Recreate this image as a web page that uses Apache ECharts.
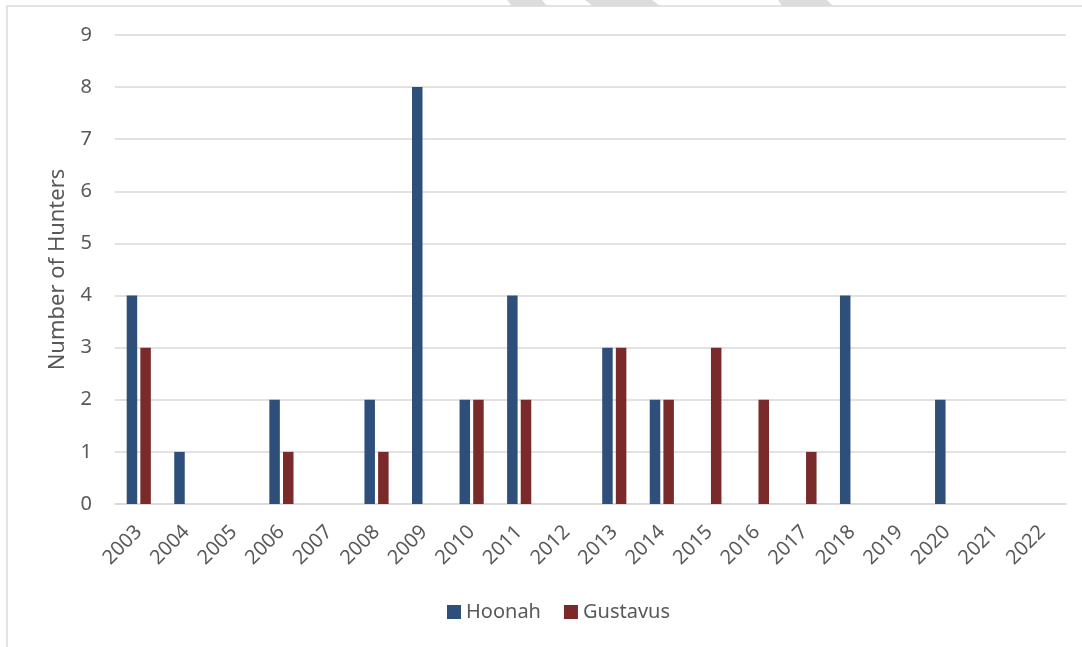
<!DOCTYPE html>
<html>
<head>
<meta charset="utf-8">
<script src="https://cdn.jsdelivr.net/npm/echarts@6/dist/echarts.min.js"></script>
<style>
  html, body { margin: 0; padding: 0; background: #fff; }
  #chart { width: 1082px; height: 647px; }
</style>
</head>
<body>
<div id="chart"></div>
<script>
// hunters per year
var years = ['2003', '2004', '2005', '2006', '2007', '2008', '2009', '2010', '2011', '2012',
             '2013', '2014', '2015', '2016', '2017', '2018', '2019', '2020', '2021', '2022'];
var hoonah   = [4, 1, 0, 2, 0, 2, 8, 2, 4, 0, 3, 2, 0, 0, 0, 4, 0, 2, 0, 0];
var gustavus = [3, 0, 0, 1, 0, 1, 0, 2, 2, 0, 3, 2, 3, 2, 1, 0, 0, 0, 0, 0];

var font = '"Noto Sans", "Open Sans", sans-serif';
var textCol = '#595959';

var chart = echarts.init(document.getElementById('chart'));

var option = {
    backgroundColor: '#fff',
    animation: false,
    textStyle: { fontFamily: font },
    graphic: [
        // frame round the chart
        { type: 'rect', shape: { x: 7, y: 6, width: 1200, height: 800 },
          style: { fill: 'none', stroke: '#d9d9d9', lineWidth: 1.5 }, z: -1 },
        // grey stripes of the watermark at the top
        { type: 'polygon', shape: { points: [[507, 0], [542, 0], [547, 6], [512, 6]] },
          style: { fill: '#dcdcdc' } },
        { type: 'polygon', shape: { points: [[585, 0], [652, 0], [660, 6], [593, 6]] },
          style: { fill: '#dcdcdc' } },
        { type: 'polygon', shape: { points: [[778, 0], [827, 0], [833, 6], [782, 6]] },
          style: { fill: '#dcdcdc' } }
    ],
    grid: { left: 115, right: 16, top: 35, bottom: 143, containLabel: false },
    legend: {
        bottom: 20,
        left: 442,
        itemWidth: 14,
        itemHeight: 14,
        itemGap: 23,
        icon: 'rect',
        textStyle: { color: textCol, fontSize: 20, fontFamily: font },
        data: ['Hoonah', 'Gustavus']
    },
    xAxis: {
        type: 'category',
        data: years,
        axisLine: { lineStyle: { color: '#d9d9d9', width: 1.5 } },
        axisTick: { show: false },
        axisLabel: {
            rotate: 45,
            margin: 25,
            color: textCol,
            fontSize: 20,
            fontFamily: font,
            interval: 0
        }
    },
    yAxis: {
        type: 'value',
        min: 0,
        max: 9,
        interval: 1,
        name: 'Number of Hunters',
        nameLocation: 'middle',
        nameGap: 46,
        nameTextStyle: { color: textCol, fontSize: 22, fontFamily: font },
        axisLine: { show: false },
        axisTick: { show: false },
        axisLabel: { color: textCol, fontSize: 20, fontFamily: font, margin: 23 },
        splitLine: { lineStyle: { color: '#d9d9d9', width: 1.5 } }
    },
    series: [{
        name: 'Hoonah',
        type: 'bar',
        barWidth: 10.5,
        barGap: '30%',
        itemStyle: { color: '#2e4f7a' },
        data: hoonah
    }, {
        name: 'Gustavus',
        type: 'bar',
        barWidth: 10.5,
        barGap: '30%',
        itemStyle: { color: '#7a2a2b' },
        data: gustavus
    }]
};

chart.setOption(option);
</script>
</body>
</html>
